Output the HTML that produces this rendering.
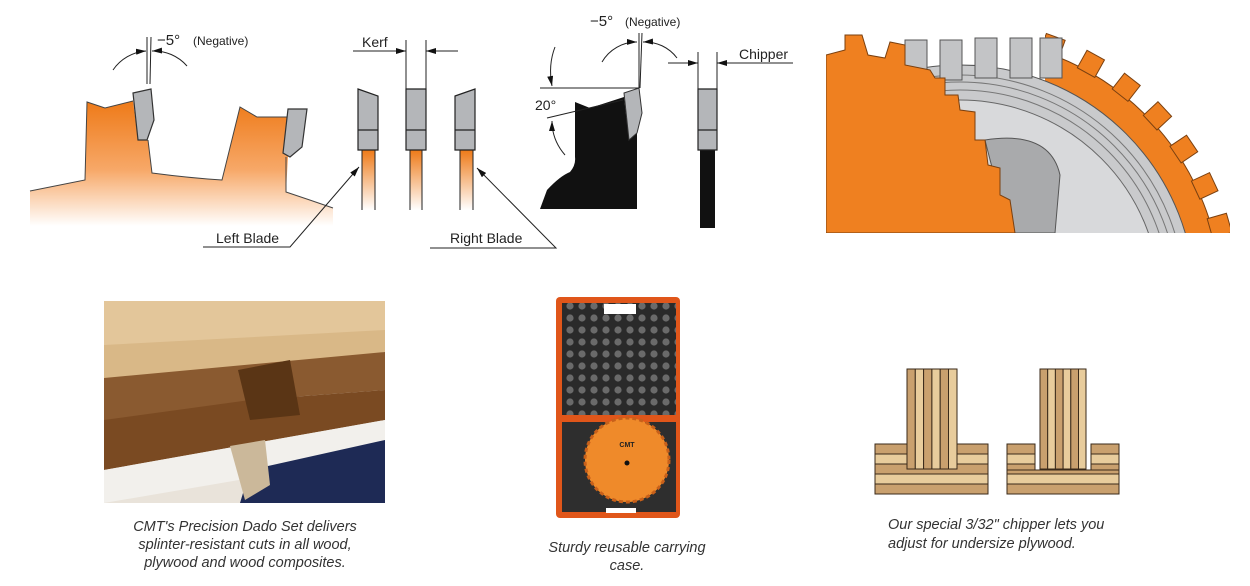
<!DOCTYPE html>
<html><head><meta charset="utf-8"><style>
html,body{margin:0;padding:0;background:#fff;}
svg{display:block}
text{font-family:"Liberation Sans",sans-serif;}
.cap{font-style:italic;font-size:14.5px;fill:#333;}
</style></head><body>
<svg width="1250" height="586" viewBox="0 0 1250 586" xmlns="http://www.w3.org/2000/svg">
<defs>
<linearGradient id="og" x1="0" y1="0" x2="0" y2="1"><stop offset="0" stop-color="#ee7a18"/><stop offset="0.55" stop-color="#f7a868"/><stop offset="1" stop-color="#fff"/></linearGradient>
<linearGradient id="og2" x1="0" y1="0" x2="0" y2="1"><stop offset="0" stop-color="#ee7a18"/><stop offset="1" stop-color="#fff"/></linearGradient>
<marker id="ar" markerWidth="10" markerHeight="6" refX="10" refY="3" orient="auto" markerUnits="userSpaceOnUse"><path d="M0,0 L10,3 L0,6z" fill="#111"/></marker>
<pattern id="foam" width="12" height="12" patternUnits="userSpaceOnUse"><rect width="12" height="12" fill="#2a2a2a"/><circle cx="6" cy="6" r="3.6" fill="#6a6a6a"/></pattern>
<clipPath id="sawclip"><rect x="826" y="28" width="404" height="205"/></clipPath>
<clipPath id="ringclip"><rect x="1045" y="20" width="200" height="220"/></clipPath>
</defs>

<!-- Left saw diagram -->
<path d="M30,191 L85,180 L87,102 L105,108 L133,101 L138,140 L148,140 L152,173 Q190,178 222,180 L240,107 L257,117 L288,117 L288,157 L286,192 Q310,200 333,208 L333,226 L30,226 Z" fill="url(#og)"/>
<path d="M30,191 L85,180 L87,102 L105,108 L133,101 M148,140 L152,173 Q190,178 222,180 L240,107 L257,117 L288,117 M286,157 L286,192 Q310,200 333,208" fill="none" stroke="#444" stroke-width="1"/>
<path d="M133,93 L151,89 L154,120 L147,140 L138,140 Z" fill="#b4b6b9" stroke="#333" stroke-width="1.2"/>
<path d="M288,109 L307,109 L302,147 L290,157 L283,153 Z" fill="#b4b6b9" stroke="#333" stroke-width="1.2"/>
<line x1="147" y1="37" x2="147" y2="84" stroke="#222" stroke-width="1"/>
<line x1="151" y1="37" x2="150" y2="84" stroke="#222" stroke-width="1"/>
<path d="M113,70 A44,44 0 0 1 146,51" fill="none" stroke="#222" stroke-width="1" marker-end="url(#ar)"/>
<path d="M187,66 A44,44 0 0 0 152,51" fill="none" stroke="#222" stroke-width="1" marker-end="url(#ar)"/>
<text x="157" y="45" font-size="15" fill="#222">−5°</text><text x="193" y="45" font-size="12" fill="#222">(Negative)</text>

<!-- Kerf blades -->
<rect x="362" y="150" width="13" height="60" fill="url(#og2)"/>
<line x1="362" y1="150" x2="362" y2="210" stroke="#222"/><line x1="375" y1="150" x2="375" y2="210" stroke="#222"/>
<path d="M358,89 L378,96 L378,150 L358,150Z M358,130 L378,130" fill="#b4b6b9" stroke="#222" stroke-width="1.2"/>
<rect x="410" y="150" width="12" height="60" fill="url(#og2)"/>
<line x1="410" y1="150" x2="410" y2="210" stroke="#222"/><line x1="422" y1="150" x2="422" y2="210" stroke="#222"/>
<path d="M406,89 L426,89 L426,150 L406,150Z M406,130 L426,130" fill="#b4b6b9" stroke="#222" stroke-width="1.2"/>
<rect x="460" y="150" width="13" height="60" fill="url(#og2)"/>
<line x1="460" y1="150" x2="460" y2="210" stroke="#222"/><line x1="473" y1="150" x2="473" y2="210" stroke="#222"/>
<path d="M455,96 L475,89 L475,150 L455,150Z M455,130 L475,130" fill="#b4b6b9" stroke="#222" stroke-width="1.2"/>
<line x1="406" y1="40" x2="406" y2="89" stroke="#222"/><line x1="426" y1="40" x2="426" y2="89" stroke="#222"/>
<line x1="353" y1="51" x2="406" y2="51" stroke="#222" marker-end="url(#ar)"/>
<line x1="458" y1="51" x2="426" y2="51" stroke="#222" marker-end="url(#ar)"/>
<text x="362" y="47" font-size="14" fill="#222">Kerf</text>
<polyline points="203,247 290,247 359,167" fill="none" stroke="#222" marker-end="url(#ar)"/>
<text x="216" y="243" font-size="14" fill="#222">Left Blade</text>
<polyline points="430,248 556,248 477,168" fill="none" stroke="#222" marker-end="url(#ar)"/>
<text x="450" y="243" font-size="14" fill="#222">Right Blade</text>

<!-- Black chipper profile -->
<path d="M575,102 L590,108 L624,97 L629,140 L637,133 L637,209 L540,209 L547,190 Q560,176 570,172 Q576,165 575,157 Z" fill="#111"/>
<path d="M624,93 L639,88 L642,113 L637,133 L629,140 Z" fill="#b4b6b9" stroke="#333" stroke-width="1"/>
<line x1="540" y1="88" x2="639" y2="88" stroke="#222"/>
<line x1="547" y1="118" x2="623" y2="100" stroke="#222"/>
<path d="M555,47 Q548,65 552,86" fill="none" stroke="#222" marker-end="url(#ar)"/>
<path d="M565,155 Q552,140 552,121" fill="none" stroke="#222" marker-end="url(#ar)"/>
<text x="535" y="110" font-size="14" fill="#222">20°</text>
<line x1="639" y1="33" x2="639" y2="88" stroke="#222"/>
<line x1="642" y1="33" x2="640" y2="88" stroke="#222"/>
<path d="M602,62 A40,40 0 0 1 637,42" fill="none" stroke="#222" marker-end="url(#ar)"/>
<path d="M677,58 A40,40 0 0 0 643,42" fill="none" stroke="#222" marker-end="url(#ar)"/>
<text x="590" y="26" font-size="15" fill="#222">−5°</text><text x="625" y="26" font-size="12" fill="#222">(Negative)</text>
<!-- chipper -->
<rect x="700" y="150" width="15" height="78" fill="#111"/>
<path d="M698,89 L717,89 L717,150 L698,150Z M698,130 L717,130" fill="#b4b6b9" stroke="#222" stroke-width="1.2"/>
<line x1="698" y1="52" x2="698" y2="89" stroke="#222"/><line x1="717" y1="52" x2="717" y2="89" stroke="#222"/>
<line x1="668" y1="63" x2="698" y2="63" stroke="#222" marker-end="url(#ar)"/>
<line x1="793" y1="63" x2="717" y2="63" stroke="#222" marker-end="url(#ar)"/>
<text x="739" y="59" font-size="14" fill="#222">Chipper</text>

<!-- Top right saw photo -->
<g clip-path="url(#sawclip)">
<g clip-path="url(#ringclip)">
<circle cx="960" cy="300" r="262" fill="#ef8020" stroke="#7a4010" stroke-width="1"/>
<g fill="#ef8020" stroke="#7a4010" stroke-width="1">
<rect x="950" y="20" width="20" height="20" transform="rotate(20 960 300)"/>
<rect x="950" y="20" width="20" height="20" transform="rotate(29 960 300)"/>
<rect x="950" y="20" width="20" height="20" transform="rotate(38 960 300)"/>
<rect x="950" y="20" width="20" height="20" transform="rotate(47 960 300)"/>
<rect x="950" y="20" width="20" height="20" transform="rotate(56 960 300)"/>
<rect x="950" y="20" width="20" height="20" transform="rotate(65 960 300)"/>
<rect x="950" y="20" width="20" height="20" transform="rotate(74 960 300)"/>
<rect x="950" y="20" width="20" height="20" transform="rotate(83 960 300)"/>
</g>
</g>
<circle cx="960" cy="300" r="235" fill="#c9cacc" stroke="#555" stroke-width="1"/>
<circle cx="960" cy="300" r="225" fill="none" stroke="#777" stroke-width="1"/>
<circle cx="960" cy="300" r="218" fill="none" stroke="#777" stroke-width="1"/>
<circle cx="960" cy="300" r="210" fill="none" stroke="#777" stroke-width="1"/>
<circle cx="960" cy="300" r="200" fill="#d8d9db" stroke="#666" stroke-width="1"/>
<g fill="#c3c4c6" stroke="#555" stroke-width="1">
<rect x="905" y="40" width="22" height="40"/><rect x="940" y="40" width="22" height="40"/><rect x="975" y="38" width="22" height="40"/><rect x="1010" y="38" width="22" height="40"/><rect x="1040" y="38" width="22" height="40"/>
</g>
<path d="M985,140 Q1050,130 1060,175 L1055,233 L1010,233 Q995,180 985,140Z" fill="#a9aaac" stroke="#555"/>
<path d="M826,55 L845,50 L845,35 L862,35 L868,55 L885,58 L890,42 L905,45 L905,65 L930,70 L935,78 L945,78 L945,95 L958,95 L960,110 L975,112 L975,140 L985,140 L988,165 L1000,168 L1000,195 L1010,200 L1015,233 L826,233Z" fill="#ef8020" stroke="#7a4010" stroke-width="1"/>
</g>

<!-- Plywood photo -->
<rect x="104" y="301" width="281" height="202" fill="#e9e3da"/>
<path d="M104,301 L385,301 L385,345 L104,390Z" fill="#e3c69a"/>
<path d="M104,345 L385,330 L385,352 L104,395Z" fill="#d9b887"/>
<path d="M104,378 L385,352 L385,390 L250,400 L104,440Z" fill="#8a5a30"/>
<path d="M104,420 L250,400 L385,390 L385,420 L104,470Z" fill="#7a4a22"/>
<path d="M104,470 L385,420 L385,455 L104,503Z" fill="#f2f0ec"/>
<path d="M250,470 L385,440 L385,503 L240,503Z" fill="#1e2a55"/>
<path d="M230,446 L265,440 L270,485 L245,500Z" fill="#cbb89a"/>
<path d="M238,370 L290,360 L300,415 L250,420Z" fill="#5a3515"/>

<!-- Case -->
<rect x="556" y="297" width="124" height="221" rx="4" fill="#e0561a"/>
<rect x="562" y="303" width="114" height="112" fill="url(#foam)"/>
<rect x="604" y="304" width="32" height="10" fill="#fff"/>
<rect x="562" y="422" width="114" height="90" fill="#2e2e2e"/>
<circle cx="627" cy="460" r="42" fill="#ef8a2a" stroke="#c8601a" stroke-width="3" stroke-dasharray="4 3"/>
<circle cx="627" cy="463" r="2.5" fill="#111"/>
<text x="627" y="447" font-size="7" font-weight="bold" text-anchor="middle" fill="#222">CMT</text>
<rect x="606" y="508" width="30" height="5" fill="#fff"/>

<!-- Plywood diagram -->
<g stroke="#3a2a1a" stroke-width="1">
<rect x="875" y="444" width="113" height="10" fill="#c9a06e"/>
<rect x="875" y="454" width="113" height="10" fill="#e8cc9c"/>
<rect x="875" y="464" width="113" height="10" fill="#c9a06e"/>
<rect x="875" y="474" width="113" height="10" fill="#e8cc9c"/>
<rect x="875" y="484" width="113" height="10" fill="#c9a06e"/>
<rect x="907" y="369" width="8.3" height="100" fill="#c9a06e"/><rect x="915.3" y="369" width="8.3" height="100" fill="#e8cc9c"/><rect x="923.6" y="369" width="8.3" height="100" fill="#c9a06e"/><rect x="931.9" y="369" width="8.3" height="100" fill="#e8cc9c"/><rect x="940.2" y="369" width="8.3" height="100" fill="#c9a06e"/><rect x="948.5" y="369" width="8.5" height="100" fill="#e8cc9c"/>
<rect x="1007" y="444" width="28" height="10" fill="#c9a06e"/><rect x="1091" y="444" width="28" height="10" fill="#c9a06e"/>
<rect x="1007" y="454" width="28" height="10" fill="#e8cc9c"/><rect x="1091" y="454" width="28" height="10" fill="#e8cc9c"/>
<rect x="1007" y="464" width="28" height="6" fill="#c9a06e"/><rect x="1091" y="464" width="28" height="6" fill="#c9a06e"/>
<rect x="1007" y="470" width="112" height="4" fill="#c9a06e"/>
<rect x="1007" y="474" width="112" height="10" fill="#e8cc9c"/>
<rect x="1007" y="484" width="112" height="10" fill="#c9a06e"/>
<rect x="1040" y="369" width="7.7" height="100" fill="#c9a06e"/><rect x="1047.7" y="369" width="7.7" height="100" fill="#e8cc9c"/><rect x="1055.4" y="369" width="7.7" height="100" fill="#c9a06e"/><rect x="1063.1" y="369" width="7.7" height="100" fill="#e8cc9c"/><rect x="1070.8" y="369" width="7.7" height="100" fill="#c9a06e"/><rect x="1078.5" y="369" width="7.5" height="100" fill="#e8cc9c"/>
</g>

<!-- Captions -->
<text class="cap" x="245" y="531" text-anchor="middle">CMT's Precision Dado Set delivers</text>
<text class="cap" x="245" y="549" text-anchor="middle">splinter-resistant cuts in all wood,</text>
<text class="cap" x="245" y="567" text-anchor="middle">plywood and wood composites.</text>
<text class="cap" x="627" y="552" text-anchor="middle">Sturdy reusable carrying</text>
<text class="cap" x="627" y="570" text-anchor="middle">case.</text>
<text class="cap" x="888" y="529">Our special 3/32" chipper lets you</text>
<text class="cap" x="888" y="548">adjust for undersize plywood.</text>
</svg>
</body></html>
